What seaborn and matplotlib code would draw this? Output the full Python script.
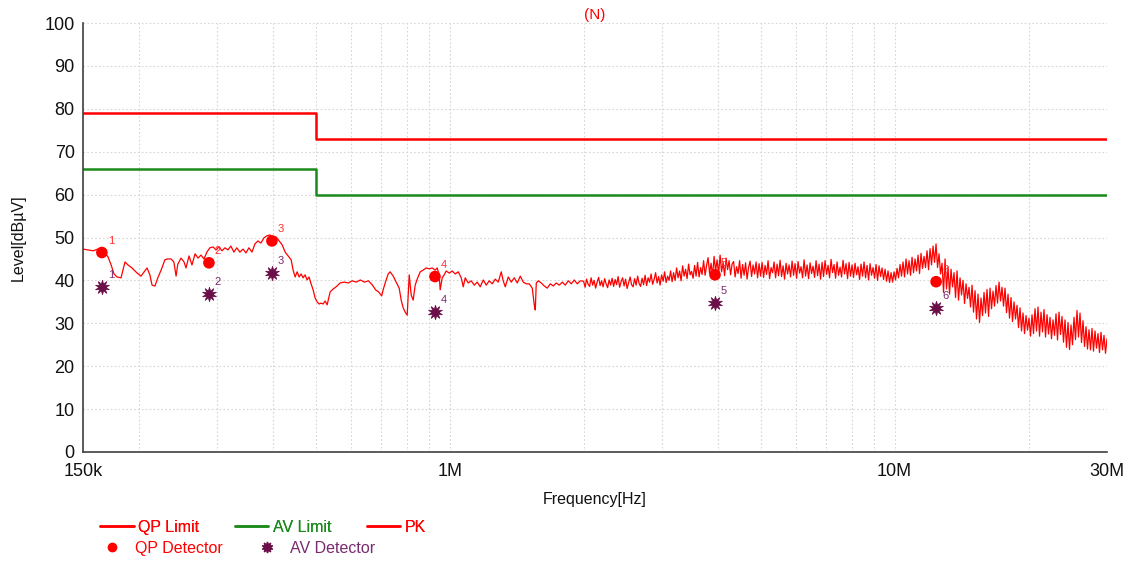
import numpy as np
import pandas as pd
import matplotlib
matplotlib.use("Agg")
import matplotlib.pyplot as plt
from matplotlib.lines import Line2D
from matplotlib.ticker import FixedLocator, FixedFormatter, NullFormatter
import seaborn as sns

# ---------------- data ----------------
limit_freq = [150e3, 500e3, 500e3, 30e6]
qp_limit = [79, 79, 73, 73]
av_limit = [66, 66, 60, 60]

# PK trace, low-frequency part (kHz, dBuV)
pk_lf_khz = [150.0, 153.9, 158.0, 162.1, 166.4, 170.7, 173.5, 176.1, 178.9, 182.6,
             186.4, 189.3, 193.3, 198.5, 202.5, 208.9, 212.0, 214.4, 217.7, 220.9,
             224.7, 229.2, 232.3, 236.6, 240.0, 242.8, 245.0, 249.1, 253.0, 255.6,
             259.6, 263.6, 267.9, 272.0, 276.2, 280.5, 284.8, 289.2, 294.0, 298.5,
             303.1, 307.9, 312.7, 317.5, 322.4, 327.4, 332.5, 337.7, 343.4, 348.5,
             353.9, 359.5, 365.1, 370.8, 376.6, 382.5, 388.4, 394.6, 401.1, 407.5,
             413.9, 420.3, 426.9, 433.6, 440.4, 444.9, 449.6, 454.2, 458.9, 463.6,
             468.5, 473.3, 478.2, 483.2, 488.2, 493.4, 498.5, 503.7, 509.0, 514.3,
             519.6, 525.0, 530.5, 538.8, 547.2, 555.8, 567.4, 579.4, 591.7, 604.2,
             616.9, 630.0, 643.4, 656.9, 670.8, 681.6, 692.3, 703.5, 708.9, 716.3,
             727.5, 735.1, 746.6, 758.3, 770.2, 778.2, 786.3, 794.5, 802.8, 811.2,
             819.6, 828.0, 836.7, 845.4, 858.7, 872.0, 885.6, 899.4, 913.6, 927.8,
             937.4, 947.2, 952.1, 962.2, 972.2, 982.3, 997.8, 1013.3, 1029.3, 1045.4,
             1061.8, 1072.7, 1083.9, 1100.8, 1118.0, 1135.6, 1153.4, 1171.4, 1189.7, 1208.3,
             1227.3, 1246.4, 1266.0, 1285.8, 1306.0, 1319.5, 1333.3, 1354.1, 1375.3, 1396.8,
             1418.7, 1440.9, 1463.5, 1486.4, 1509.7, 1533.3, 1549.3, 1557.4, 1565.5, 1581.8,
             1606.5, 1631.6, 1657.2, 1683.1, 1709.4, 1736.1, 1763.3, 1790.9, 1818.9, 1847.4,
             1876.3, 1905.6, 1935.5, 1965.7]
pk_lf_level = [47.3, 47.1, 46.9, 47.3, 46.9, 45.5, 43.6, 41.5, 40.8, 40.6,
               44.3, 43.6, 42.9, 41.7, 41.0, 42.9, 41.3, 38.9, 38.7, 40.6,
               42.4, 44.8, 45.0, 45.0, 44.3, 41.0, 43.8, 45.2, 44.3, 42.9,
               45.7, 43.6, 46.2, 45.2, 45.9, 45.0, 46.6, 47.6, 47.8, 47.1,
               47.8, 46.9, 47.6, 47.1, 48.0, 46.6, 47.6, 46.6, 47.3, 46.4,
               47.6, 46.6, 48.5, 49.2, 48.7, 49.9, 50.4, 50.6, 49.9, 50.1,
               49.2, 48.3, 46.6, 45.7, 44.8, 42.4, 40.8, 42.0, 40.8, 41.5,
               40.6, 41.3, 40.1, 40.8, 39.2, 37.8, 35.9, 35.0, 34.5, 34.7,
               34.5, 35.2, 34.3, 37.3, 38.0, 38.5, 39.4, 39.6, 39.4, 39.9,
               39.6, 40.1, 39.6, 39.9, 38.9, 37.8, 37.3, 36.4, 37.8, 39.4,
               41.5, 42.0, 41.0, 39.6, 38.2, 35.4, 33.6, 32.6, 31.9, 41.3,
               36.6, 35.4, 38.9, 40.3, 42.0, 42.4, 42.9, 42.7, 42.9, 42.4,
               42.9, 41.3, 37.8, 40.6, 41.3, 42.2, 41.7, 42.2, 41.5, 42.0,
               40.6, 38.5, 40.6, 39.4, 39.9, 38.9, 39.6, 38.5, 40.1, 38.9,
               39.9, 39.2, 40.3, 39.6, 42.0, 39.9, 38.5, 40.8, 39.6, 40.6,
               39.4, 41.0, 39.6, 39.2, 39.2, 38.2, 34.3, 33.1, 39.4, 39.9,
               39.4, 38.7, 38.2, 39.2, 38.7, 39.4, 38.9, 39.6, 38.9, 39.9,
               39.2, 40.1, 39.2, 39.9]

# PK trace, dense sweep 2 MHz .. 30 MHz (levels)
pk_hf_start, pk_hf_stop = 2.0e6, 30e6
pk_hf_level = [
    39.8, 38.4, 40.3, 39.1, 38.6, 40.6, 38.9, 40.0, 38.2, 39.6, 40.7, 38.8, 39.9, 38.5, 40.4, 39.2, 38.3, 40.1, 38.9, 40.5,
    38.6, 40.2, 39.0, 40.9, 38.4, 39.7, 40.6, 38.7, 40.3, 38.1, 39.5, 40.8, 39.0, 38.5, 40.4, 38.9, 41.0, 39.3, 38.6, 40.5,
    39.0, 41.2, 38.8, 40.6, 39.6, 41.5, 39.1, 40.2, 41.8, 39.4, 40.9, 38.9, 41.3, 39.8, 42.0, 39.5, 41.0, 40.0, 42.2, 39.7,
    41.8, 40.0, 42.9, 40.6, 42.2, 39.9, 43.4, 41.0, 42.6, 40.4, 43.8, 41.3, 42.1, 40.5, 43.5, 41.0, 44.2, 40.8, 43.0, 41.4,
    44.6, 41.2, 43.5, 45.3, 41.6, 44.0, 41.0, 45.6, 42.2, 44.8, 41.4, 45.9, 42.0, 44.2, 41.1, 45.2, 42.5, 44.6, 41.3, 43.8,
    44.4, 40.8, 43.2, 41.6, 44.6, 40.5, 43.7, 41.2, 44.1, 40.3, 43.0, 44.5, 40.9, 43.6, 41.5, 44.3, 40.6, 43.9, 41.0, 44.2,
    40.7, 43.5, 41.4, 44.6, 40.4, 43.0, 41.8, 44.3, 40.6, 43.8, 41.1, 44.7, 40.9, 43.4, 40.3, 44.0, 41.5, 43.6, 40.8, 44.5,
    41.2, 43.9, 40.5, 44.4, 41.7, 43.2, 40.6, 44.8, 41.0, 43.6, 40.4, 44.1, 41.6, 43.3, 40.7, 44.6, 41.1, 43.8, 40.3, 44.2,
    40.9, 44.6, 41.4, 43.5, 40.6, 44.9, 41.8, 43.7, 40.5, 44.3, 41.2, 43.1, 40.8, 44.7, 41.5, 43.9, 40.4, 44.2, 41.0, 43.6,
    40.7, 44.0, 41.3, 43.2, 40.2, 43.8, 41.0, 44.3, 40.6, 43.5, 40.1, 43.9, 41.2, 43.0, 40.5, 43.7, 40.0, 43.4, 40.9, 42.9,
    40.2, 42.6, 39.8, 42.2, 39.5, 41.8, 39.6, 42.0, 40.1, 42.8, 40.6, 43.7, 41.0, 44.3, 40.8, 45.0, 41.5, 44.6, 41.2, 45.4,
    41.8, 45.0, 42.2, 45.9, 41.6, 46.3, 42.8, 45.6, 43.0, 46.9, 42.5, 47.4, 43.6, 48.0, 44.2, 48.5, 43.0, 46.2, 41.5, 44.0,
    37.2, 45.0, 38.0, 43.2, 36.8, 42.6, 38.5, 41.8, 36.0, 42.2, 35.4, 40.6, 36.6, 40.0, 34.6, 39.2, 35.8, 38.4, 33.8, 38.9,
    32.6, 37.6, 31.0, 36.8, 30.2, 35.9, 31.8, 37.2, 32.4, 37.9, 31.6, 38.2, 33.4, 37.5, 34.0, 38.8, 34.7, 39.6, 35.2, 38.4,
    34.0, 38.2, 32.5, 36.8, 31.2, 36.0, 30.4, 35.0, 31.0, 34.2, 29.0, 33.6, 28.2, 32.4, 27.6, 31.8, 28.4, 31.2, 27.0, 32.0,
    27.6, 33.4, 28.2, 33.8, 27.0, 32.6, 28.0, 33.2, 26.8, 32.0, 27.5, 31.4, 26.4, 30.8, 27.2, 32.2, 26.1, 32.6, 27.4, 31.6,
    25.6, 30.8, 24.4, 30.2, 23.9, 29.6, 25.0, 31.4, 26.2, 33.0, 26.8, 32.4, 25.5, 30.6, 24.6, 29.2, 24.0, 28.5, 23.8, 28.8,
    23.5, 28.2, 24.2, 27.6, 23.2, 27.9, 23.8, 27.2, 23.0, 26.4]

# detector results
det_labels = ["1", "2", "3", "4", "5", "6"]
det_freq_khz = [165.4, 287.8, 398.7, 926.8, 3947.0, 12390.0]
qp_level = [46.5, 44.1, 49.2, 40.9, 41.3, 39.7]
av_level = [38.5, 36.8, 41.7, 32.7, 34.7, 33.5]

x_major = [150e3, 1e6, 10e6, 30e6]
x_major_labels = ["150k", "1M", "10M", "30M"]
x_minor = [2e5, 3e5, 4e5, 5e5, 6e5, 7e5, 8e5, 9e5,
           2e6, 3e6, 4e6, 5e6, 6e6, 7e6, 8e6, 9e6, 2e7]
y_ticks = list(range(0, 101, 10))

# ---------------- styling ----------------
RED = "#ff0000"
GREEN = "#1a8a1a"
PURPLE = "#6a0f48"
PURPLE_TXT = "#7a2a6e"
AXCOL = "#404040"

sns.set_theme(style="white")
plt.rcParams["font.family"] = ["Liberation Sans", "DejaVu Sans"]

fig = plt.figure(figsize=(11.29, 5.62), dpi=100)
ax = fig.add_axes([83 / 1129, 1 - 452 / 562, (1107 - 83) / 1129, (452 - 23) / 562])

ax.set_xscale("log")

# limits
lim_df = pd.DataFrame({"f": limit_freq, "qp": qp_limit, "av": av_limit})
sns.lineplot(data=lim_df, x="f", y="qp", estimator=None, sort=False,
             color=RED, lw=1.8, ax=ax)
sns.lineplot(data=lim_df, x="f", y="av", estimator=None, sort=False,
             color=GREEN, lw=1.8, ax=ax)

# PK trace
pk_hf_freq = np.geomspace(pk_hf_start, pk_hf_stop, len(pk_hf_level))
pk_df = pd.DataFrame({
    "f": list(np.array(pk_lf_khz) * 1e3) + list(pk_hf_freq),
    "lvl": pk_lf_level + pk_hf_level,
})
sns.lineplot(data=pk_df, x="f", y="lvl", estimator=None, sort=False,
             color=RED, lw=0.9, ax=ax)

# detectors
det_df = pd.DataFrame({"f": np.array(det_freq_khz) * 1e3, "qp": qp_level,
                       "av": av_level, "lab": det_labels})
sns.scatterplot(data=det_df, x="f", y="qp", color=RED, s=70, marker="o",
                edgecolor="none", ax=ax, zorder=5)
sns.scatterplot(data=det_df, x="f", y="av", color=PURPLE, s=110, marker=(10, 1, 0),
                edgecolor=PURPLE, linewidth=0.5, ax=ax, zorder=5)
for _, r in det_df.iterrows():
    ax.annotate(r["lab"], (r["f"], r["qp"]), xytext=(6.5, 8.5),
                textcoords="offset points", color="#ff3030", fontsize=8,
                ha="center", va="center", zorder=6)
    ax.annotate(r["lab"], (r["f"], r["av"]), xytext=(6.5, 8.5),
                textcoords="offset points", color=PURPLE_TXT, fontsize=8,
                ha="center", va="center", zorder=6)

# axes
ax.set_xlim(150e3, 30e6)
ax.set_ylim(0, 100)
ax.xaxis.set_major_locator(FixedLocator(x_major))
ax.xaxis.set_major_formatter(FixedFormatter(x_major_labels))
ax.xaxis.set_minor_locator(FixedLocator(x_minor))
ax.xaxis.set_minor_formatter(NullFormatter())
ax.set_yticks(y_ticks)
ax.set_yticklabels([str(v) for v in y_ticks])

ax.grid(True, which="both", axis="x", color="#d6d6d6", linestyle=(0, (1.5, 2)), lw=0.8)
ax.grid(True, which="major", axis="y", color="#d6d6d6", linestyle=(0, (1.5, 2)), lw=0.8)
ax.set_axisbelow(True)

for s in ["top", "right"]:
    ax.spines[s].set_visible(False)
for s in ["left", "bottom"]:
    ax.spines[s].set_color(AXCOL)
    ax.spines[s].set_linewidth(1.2)

ax.tick_params(axis="both", which="both", direction="inout", length=8, width=1,
               color=AXCOL, labelsize=13, labelcolor="#111111")
ax.tick_params(axis="x", which="both", pad=4)
ax.tick_params(axis="y", pad=2)

ax.set_xlabel("Frequency[Hz]", fontsize=11.5, color="#111111")
ax.set_ylabel("Level[dBµV]", fontsize=11.5, color="#111111")
ax.xaxis.set_label_coords(0.5, -0.094)
ax.yaxis.set_label_coords(-0.056, 0.5)
ax.set_title("(N)", color=RED, fontsize=11, pad=3)

# legend
h1 = [Line2D([], [], color=RED, lw=1.8),
      Line2D([], [], color=GREEN, lw=1.8),
      Line2D([], [], color=RED, lw=1.8)]
leg1 = fig.legend(h1, ["QP Limit", "AV Limit", "PK"], loc="upper left",
                  bbox_to_anchor=(100 / 1129, 1 - 520 / 562), ncol=3, frameon=False,
                  fontsize=11.5, handlelength=2.1, handletextpad=0.3,
                  columnspacing=2.2, borderpad=0, borderaxespad=0,
                  labelcolor=[RED, GREEN, RED])
fig.add_artist(leg1)
h2 = [Line2D([], [], color=RED, marker="o", ls="none", markersize=6),
      Line2D([], [], color=PURPLE, marker=(10, 1, 0), ls="none", markersize=8)]
fig.legend(h2, ["QP Detector", "AV Detector"], loc="upper left",
           bbox_to_anchor=(100 / 1129, 1 - 541 / 562), ncol=2, frameon=False,
           fontsize=11.5, handlelength=1.55, handletextpad=0.65,
           columnspacing=2.0, borderpad=0, borderaxespad=0,
           labelcolor=[RED, PURPLE_TXT])

fig.savefig("out.png", dpi=100)
